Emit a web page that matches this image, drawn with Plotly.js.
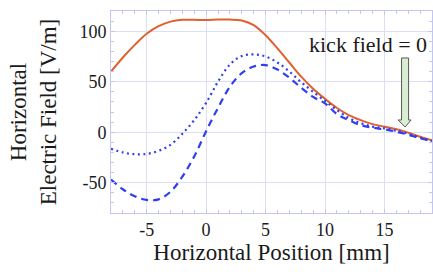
<!DOCTYPE html>
<html>
<head>
<meta charset="utf-8">
<script src="https://cdn.plot.ly/plotly-3.0.1.min.js"></script>
<style>html,body{margin:0;padding:0;background:#fff;}#chart{width:433px;height:279px;}</style>
</head>
<body>
<div id="chart"></div>
<script>
const positions = [-8,-7,-6,-5,-4,-3,-2,-1,0,1,2,3,4,5,6,7,8,9,10,11,12,13,14,15,16,17,18,19];
const solidField = [60,74,86.5,97.5,105,109.5,111.3,111.3,111,111.5,111.5,110.5,106,96,83,69,55,43,33,24,17,12,8,5.5,3,-0.5,-4.5,-8];
const dottedField = [-16.5,-20,-21.8,-21.5,-18.5,-12.5,-1.5,12,29,50,67,75.5,77,75,69,60,49.5,40,31,22,14,9,5.5,3.8,1.5,-1.5,-5.3,-8.7];
const dashedField = [-47,-56.5,-63.5,-67,-66.5,-59,-44,-24,1,24,45,58.5,65,66.5,62,54,44,35,28.5,18,12,7,4.5,2.8,0.5,-2.5,-6,-8.5];
const xTicks = [-5,0,5,10,15];
const yTicks = [-50,0,50,100];
const annotationText = "kick field = 0";

const font = "'Liberation Serif', 'DejaVu Serif', 'Times New Roman', Times, serif";
const frame = "#c3c7f0";
const grid = "#dcdef8";

const traces = [
  {x: positions, y: solidField, mode: "lines", line: {color: "#e0602e", width: 2, shape: "spline", smoothing: 1}},
  {x: positions, y: dottedField, mode: "lines", line: {color: "#2f3ff0", width: 2.2, dash: "2px,3.5px", shape: "spline", smoothing: 1}},
  {x: positions, y: dashedField, mode: "lines", line: {color: "#2f3ff0", width: 2.2, dash: "7px,5px", shape: "spline", smoothing: 1}}
];

const layout = {
  width: 433, height: 279,
  margin: {l: 111, r: 1, t: 11, b: 66},
  paper_bgcolor: "#fff", plot_bgcolor: "#fff",
  showlegend: false,
  font: {family: font, size: 19, color: "#1a1a1a"},
  xaxis: {
    range: [-8, 19], tickvals: xTicks, ticktext: xTicks.map(String),
    showgrid: true, gridcolor: grid, gridwidth: 1, zeroline: false,
    showline: true, linecolor: frame, linewidth: 1, mirror: "ticks",
    ticks: "inside", ticklen: 4, tickcolor: frame,
    minor: {dtick: 1, ticks: "inside", ticklen: 3, tickcolor: frame, showgrid: false},
    tickfont: {family: font, size: 18, color: "#1a1a1a"},
    title: {text: "Horizontal Position [mm]", font: {family: font, size: 23, color: "#1a1a1a"}, standoff: 4}
  },
  yaxis: {
    range: [-80, 120], tickvals: yTicks, ticktext: yTicks.map(String),
    showgrid: true, gridcolor: grid, gridwidth: 1, zeroline: false,
    showline: true, linecolor: frame, linewidth: 1, mirror: "ticks",
    ticks: "inside", ticklen: 4, tickcolor: frame,
    minor: {dtick: 10, ticks: "inside", ticklen: 3, tickcolor: frame, showgrid: false},
    tickfont: {family: font, size: 18, color: "#1a1a1a"},
    title: {text: "Horizontal<br>Electric Field [V/m]", font: {family: font, size: 23, color: "#1a1a1a"}, standoff: 16}
  },
  annotations: [
    {x: 13.6, y: 87.3, xref: "x", yref: "y", text: annotationText, showarrow: false,
     xanchor: "center", yanchor: "middle", font: {family: font, size: 22, color: "#1a1a1a"}}
  ],
  shapes: [
    {type: "path", xref: "x", yref: "y",
     path: "M 16.44,73.5 L 17.03,73.5 L 17.03,12.1 L 17.24,12.1 L 16.74,5.1 L 16.15,12.1 L 16.44,12.1 Z",
     fillcolor: "#d8efd2", line: {color: "#5a5a5a", width: 1}}
  ]
};

Plotly.newPlot("chart", traces, layout, {displayModeBar: false, staticPlot: true});
</script>
</body>
</html>
